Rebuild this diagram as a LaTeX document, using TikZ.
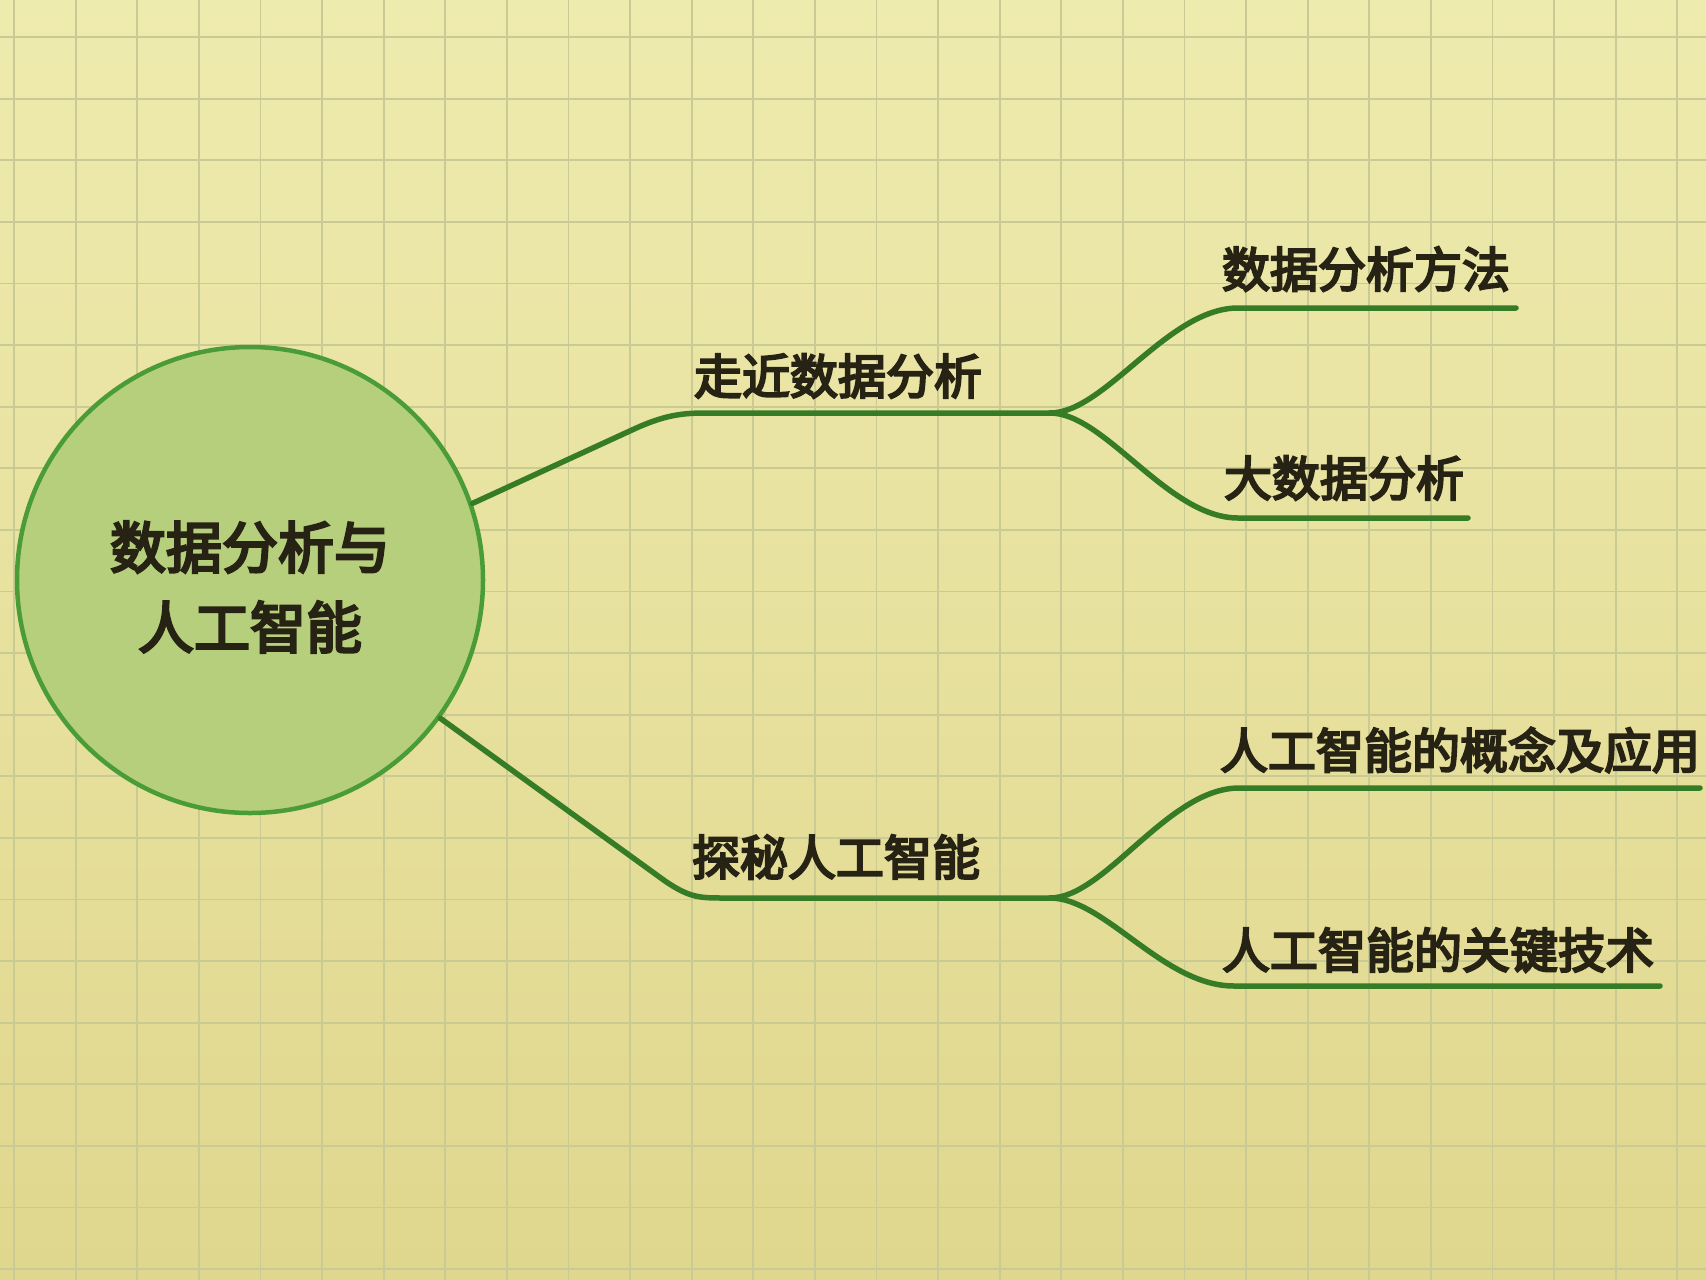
\documentclass[tikz,border=0pt]{standalone}
\usepackage{fontspec}
\setmainfont{Noto Sans CJK SC}
\newfontfamily\topicfont{Noto Sans CJK SC}[FakeBold=4.5]
\definecolor{papertop}{RGB}{238,235,174}
\definecolor{paperbot}{RGB}{224,215,142}
\definecolor{gridc}{RGB}{202,202,148}
\definecolor{hubc}{RGB}{182,207,124}
\definecolor{ringc}{RGB}{74,156,56}
\definecolor{linec}{RGB}{54,124,38}
\definecolor{inkc}{RGB}{38,34,20}
\begin{document}
\begin{tikzpicture}[x=1pt,y=1pt,
  gridline/.style={draw=gridc, line width=1.8pt},
  hub/.style={circle, draw=ringc, line width=4.5pt, fill=hubc, minimum size=466pt, inner sep=0pt},
  branch/.style={draw=linec, line width=5.5pt, line cap=round, line join=round},
  topic/.style={inner sep=0pt, text=inkc, font=\topicfont\fontsize{#1}{#1}\selectfont},
]
% squared paper
\shade[top color=papertop, bottom color=paperbot] (0,0) rectangle (1706,-1280);
\useasboundingbox (0,0) rectangle (1706,-1280);
\foreach \k in {0,...,27}
  \draw[gridline] ({14+61.6*\k},0) -- ({14+61.6*\k},-1280);
\foreach \k in {0,...,20}
  \draw[gridline] (0,{-37-61.6*\k}) -- (1706,{-37-61.6*\k});

% central topic
\node[hub] (root) at (250,-580) {};
\node[inner sep=0pt, text=inkc, align=center,
      font=\topicfont\fontsize{56}{80}\selectfont] (roottext) at (250,-587)
  {数据分析与\\人工智能};

% first main branch and its forks
\coordinate (fork1) at (1050,-413);
\coordinate (m11) at (1238,-308);
\coordinate (e11) at (1516,-308);
\coordinate (m12) at (1238,-518);
\coordinate (e12) at (1468,-518);
\draw[branch] (root.19) -- (632,-430) .. controls (662,-416) and (680,-413) .. (705,-413) -- (fork1);
\draw[branch] (fork1) .. controls (1105,-413) and (1168,-308) .. (m11) -- (e11);
\draw[branch] (fork1) .. controls (1105,-413) and (1168,-518) .. (m12) -- (e12);

% second main branch and its forks
\coordinate (fork2) at (1050,-898);
\coordinate (m21) at (1239,-788);
\coordinate (e21) at (1700,-788);
\coordinate (m22) at (1234,-986);
\coordinate (e22) at (1660,-986);
\draw[branch] (root.-36) -- (665,-881) .. controls (690,-898) and (700,-898) .. (725,-898) -- (fork2);
\draw[branch] (fork2) .. controls (1105,-898) and (1168,-788) .. (m21) -- (e21);
\draw[branch] (fork2) .. controls (1105,-898) and (1163,-986) .. (m22) -- (e22);

% labels
\node[topic=48] (t1)  at (838,-376)  {走近数据分析};
\node[topic=48] (t11) at (1366,-269) {数据分析方法};
\node[topic=48] (t12) at (1344,-478) {大数据分析};
\node[topic=48] (t2)  at (836,-857)  {探秘人工智能};
\node[topic=48] (t21) at (1460,-750) {人工智能的概念及应用};
\node[topic=48] (t22) at (1438,-950) {人工智能的关键技术};
\end{tikzpicture}
\end{document}
